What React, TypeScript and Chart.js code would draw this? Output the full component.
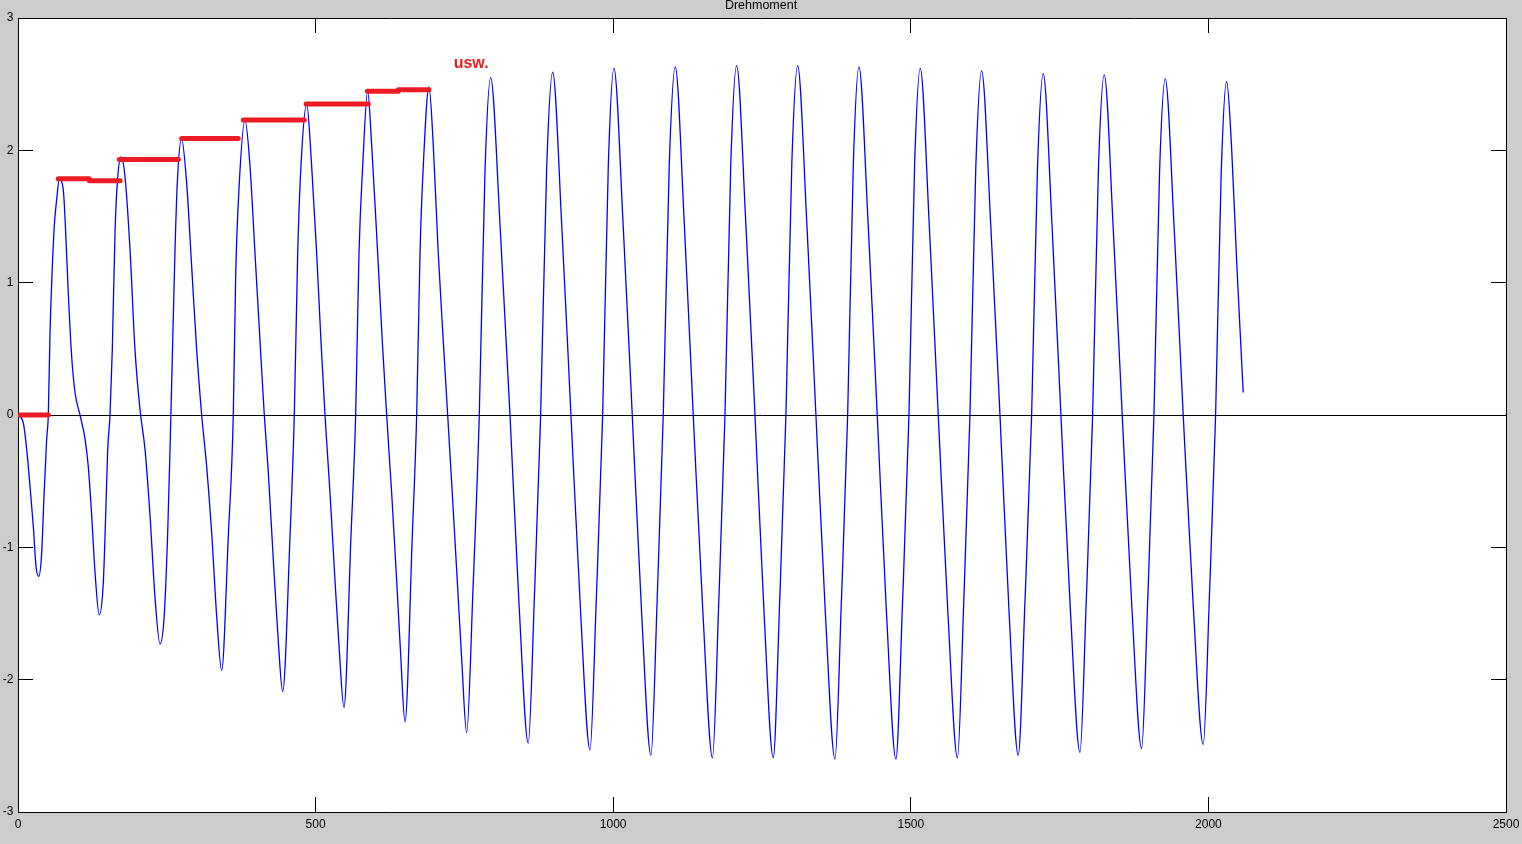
import { useEffect, useRef } from 'react';
import { Chart, registerables } from 'chart.js';

Chart.register(...registerables);

// torque signal, [time, value] pairs
const startupCycles: [number, number][] = [
  [0, 0], [8.9, -0.06], [14.6, -0.26], [20.2, -0.54], [25.7, -0.84], [30.2, -1.14],
  [34.8, -1.22], [39.8, -1.04], [43.7, -0.61], [48.2, -0.18], [50.9, 0], [53.8, 0.62],
  [56.6, 1.0], [61.0, 1.43], [65.0, 1.63], [69.4, 1.78], [76.1, 1.70], [80.1, 1.38],
  [84.5, 0.92], [90.2, 0.44], [95.8, 0.17], [104.2, 0], [112.6, -0.18], [118.1, -0.39],
  [123.8, -0.76], [129.4, -1.19], [136.6, -1.51], [143.3, -1.27], [147.3, -0.76],
  [150.7, -0.26], [154.6, 0], [158.4, 0.49], [163.0, 1.38], [166.8, 1.75], [173.0, 1.95],
  [179.8, 1.80], [188.2, 1.25], [196.6, 0.49], [205.0, 0.04], [213.4, -0.26], [221.8, -0.76],
  [230.2, -1.38], [238.6, -1.73], [245.8, -1.51], [251.5, -0.89], [255.4, -0.26],
  [258.2, 0.24], [263.8, 1.25], [267.6, 1.75], [274.7, 2.09], [283.4, 1.75], [291.8, 1.12],
  [300.2, 0.49], [308.6, 0], [317.0, -0.39], [325.4, -0.89], [333.8, -1.52], [342.2, -1.93],
  [353.3, -0.92], [361.7, 0], [365.7, 1.05], [371.3, 1.71], [381.4, 2.23], [389.8, 1.88],
  [398.2, 1.22], [406.6, 0.56], [413.8, 0], [420.5, -0.43], [428.9, -1.09], [437.3, -1.71],
  [444.7, -2.09], [457.0, -0.92], [464.2, 0], [469.9, 1.22], [475.4, 1.88], [485.0, 2.35],
  [493.4, 1.88], [501.8, 1.22], [509.0, 0.56], [515.8, 0], [524.2, -0.59], [532.6, -1.25],
  [539.3, -1.74], [547.7, -2.21], [559.4, -0.92], [567.3, 0], [572.9, 1.22], [579.1, 1.88],
  [587.5, 2.45], [594.2, 2.04], [604.3, 1.22], [612.0, 0.56], [619.4, 0], [627.8, -0.59],
  [636.2, -1.25], [642.9, -1.81], [650.2, -2.32], [662.4, -0.92], [669.8, 0], [675.4, 1.22],
  [680.9, 1.88], [690.5, 2.48], [697.7, 2.04], [706.1, 1.22], [714.5, 0.56], [721.9, 0],
  [729.6, -0.59], [738.0, -1.25], [745.4, -1.84], [753.8, -2.40],
];

const steadyCycles: [number, number][] = [
  [764.4, -1.32], [775.0, 0], [784.6, 1.84], [794.1, 2.55], [810.3, 1.40], [826.6, 0], [841.9, -1.44], [857.3, -2.48],
  [867.7, -1.36], [878.1, 0], [888.2, 1.86], [898.3, 2.59], [913.7, 1.42], [929.0, 0], [945.0, -1.47], [961.0, -2.53],
  [971.6, -1.39], [982.3, 0], [991.8, 1.89], [1001.3, 2.62], [1016.7, 1.44], [1032.0, 0], [1047.7, -1.49], [1063.4, -2.57],
  [1073.8, -1.41], [1084.1, 0], [1094.2, 1.89], [1104.3, 2.63], [1119.4, 1.45], [1134.5, 0], [1150.8, -1.50], [1166.8, -2.59],
  [1177.3, -1.42], [1187.8, 0], [1197.6, 1.90], [1207.4, 2.64], [1222.8, 1.45], [1238.2, 0], [1253.5, -1.50], [1268.9, -2.59],
  [1279.6, -1.42], [1290.2, 0], [1300.1, 1.90], [1309.9, 2.64], [1325.3, 1.45], [1340.6, 0], [1356.6, -1.51], [1372.6, -2.60],
  [1383.2, -1.43], [1393.9, 0], [1403.4, 1.89], [1412.9, 2.63], [1428.3, 1.45], [1443.6, 0], [1459.3, -1.51], [1475.0, -2.60],
  [1486.0, -1.43], [1496.9, 0], [1506.4, 1.89], [1515.9, 2.62], [1531.0, 1.44], [1546.1, 0], [1562.4, -1.50], [1578.4, -2.59],
  [1588.9, -1.42], [1599.4, 0], [1609.2, 1.87], [1619.0, 2.60], [1634.4, 1.43], [1649.8, 0], [1665.1, -1.49], [1680.5, -2.57],
  [1691.8, -1.41], [1703.0, 0], [1712.8, 1.86], [1722.5, 2.58], [1737.4, 1.42], [1752.2, 0], [1768.2, -1.48], [1784.2, -2.55],
  [1794.8, -1.40], [1805.5, 0], [1815.2, 1.85], [1825.0, 2.57], [1840.1, 1.41], [1855.2, 0], [1871.5, -1.46], [1887.8, -2.52],
  [1898.1, -1.39], [1908.5, 0], [1917.9, 1.83], [1927.5, 2.54], [1942.6, 1.40], [1957.7, 0], [1974.5, -1.44], [1991.3, -2.49],
  [2001.7, -1.37], [2012.1, 0], [2021.4, 1.81], [2030.6, 2.52], [2039.0, 2.02], [2047.4, 1.17], [2053.0, 0.66], [2058.5, 0.17],
];

// red hand-drawn peak levels
const levelStart = [0, 67.7, 119.8, 170.2, 275, 378.5, 484, 587, 639];
const levelEnd = [51, 119.8, 171.4, 269.4, 370, 481, 588.5, 639, 690.5];
const levelValue = [0, 1.785, 1.77, 1.93, 2.09, 2.23, 2.35, 2.447, 2.457];

const NOTE_TEXT = 'usw.';
const NOTE_AT = { x: 732, y: 2.62 };

const TITLE = 'Drehmoment';
const RED = '#ed1c24';
const FONT = '"Liberation Sans", Arial, sans-serif';

const plotBackground = {
  id: 'plotBackground',
  beforeDraw(chart: any) {
    const { ctx, chartArea } = chart;
    ctx.save();
    ctx.fillStyle = '#ffffff';
    ctx.fillRect(chartArea.left, chartArea.top, chartArea.right - chartArea.left, chartArea.bottom - chartArea.top);
    ctx.restore();
  },
};

const noteLabel = {
  id: 'noteLabel',
  afterDatasetsDraw(chart: any) {
    const { ctx, scales } = chart;
    ctx.save();
    ctx.font = `bold 16px ${FONT}`;
    ctx.fillStyle = RED;
    ctx.textBaseline = 'alphabetic';
    ctx.fillText(NOTE_TEXT, scales.x.getPixelForValue(NOTE_AT.x), scales.y.getPixelForValue(NOTE_AT.y));
    ctx.restore();
  },
};

const inwardGrid = {
  drawOnChartArea: false,
  drawTicks: true,
  tickLength: -15,
  tickColor: '#000000',
  color: '#000000',
};

// fixed axis box sizes, no extra label padding around the plot area
const fixBox = (w: number | null, h: number | null) => (s: any) => {
  if (w !== null) s.width = w;
  if (h !== null) s.height = h;
  s.paddingLeft = 0;
  s.paddingRight = 0;
  s.paddingTop = 0;
  s.paddingBottom = 0;
};

const plainNumber = (v: any) => String(v);

const App = () => {
  const canvasRef = useRef<HTMLCanvasElement | null>(null);

  useEffect(() => {
    if (!canvasRef.current) return;

    const signal = [...startupCycles, ...steadyCycles].map(([x, y]) => ({ x, y }));
    const levels = levelStart.map((s, i) => ({
      data: [
        { x: s, y: levelValue[i] },
        { x: levelEnd[i], y: levelValue[i] },
      ],
      borderColor: RED,
      borderWidth: 5,
      borderCapStyle: 'round' as const,
      pointRadius: 0,
      order: 0,
    }));

    const chart = new Chart(canvasRef.current, {
      type: 'line',
      data: {
        datasets: [
          ...levels,
          {
            data: signal,
            borderColor: '#0000ff',
            borderWidth: 1.3,
            pointRadius: 0,
            cubicInterpolationMode: 'monotone',
            order: 1,
          },
        ],
      },
      options: {
        animation: false,
        responsive: false,
        layout: { padding: 0 },
        plugins: {
          legend: { display: false },
          tooltip: { enabled: false },
          title: {
            display: true,
            text: TITLE,
            color: '#000000',
            font: { family: FONT, size: 12.5, weight: 'normal' },
            padding: { top: -2.2, bottom: 5.2 },
          },
        },
        scales: {
          x: {
            type: 'linear',
            position: 'bottom',
            min: 0,
            max: 2500,
            ticks: {
              stepSize: 500,
              color: '#000000',
              font: { family: FONT, size: 12 },
              padding: 20.5,
              maxRotation: 0,
              autoSkip: false,
              callback: plainNumber,
            },
            grid: inwardGrid,
            border: { display: true, color: '#000000', width: 1 },
            afterFit: fixBox(null, 32),
          },
          x2: {
            type: 'linear',
            position: 'top',
            min: 0,
            max: 2500,
            ticks: { stepSize: 500, display: false },
            grid: inwardGrid,
            border: { display: true, color: '#000000', width: 1 },
            afterFit: fixBox(null, 0),
          },
          y: {
            type: 'linear',
            position: 'left',
            min: -3,
            max: 3,
            ticks: {
              stepSize: 1,
              color: '#000000',
              font: { family: FONT, size: 12 },
              padding: 19.5,
              callback: plainNumber,
            },
            grid: {
              ...inwardGrid,
              drawOnChartArea: true,
              color: (ctx: any) => (ctx.tick && ctx.tick.value === 0 ? '#000000' : 'rgba(0,0,0,0)'),
            },
            border: { display: true, color: '#000000', width: 1 },
            afterFit: fixBox(18, null),
          },
          y2: {
            type: 'linear',
            position: 'right',
            min: -3,
            max: 3,
            ticks: { stepSize: 1, display: false },
            grid: inwardGrid,
            border: { display: true, color: '#000000', width: 1 },
            afterFit: fixBox(16, null),
          },
        },
      },
      plugins: [plotBackground, noteLabel],
    } as any);

    return () => {
      chart.destroy();
    };
  }, []);

  return (
    <div style={{ position: 'fixed', left: 0, top: 0, width: 1522, height: 844, background: '#cccccc' }}>
      <canvas ref={canvasRef} width={1522} height={844} />
    </div>
  );
};

export default App;
